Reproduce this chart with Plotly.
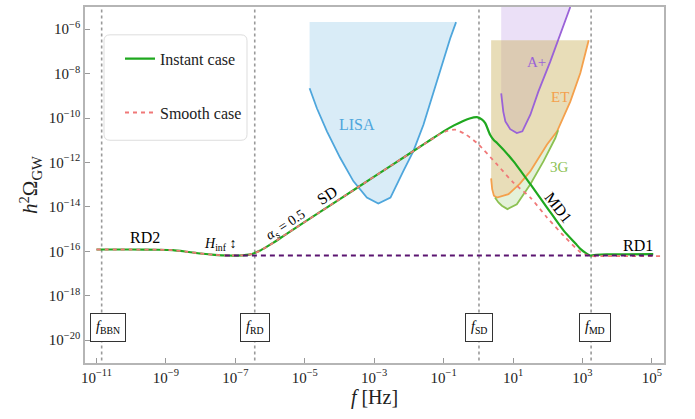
import numpy as np
import plotly.graph_objects as go

# ---------------- data (log10 values) ----------------
inst_logf = [-11.0, -10.0, -9.2, -8.8, -8.4, -8.0, -7.6, -7.2, -6.8, -6.6, -6.44, -6.3, -6.1, -5.9,
             -5.5, -4.5, -3.5, -2.5, -1.5, -1.0, -0.7, -0.45, -0.25, -0.04, 0.1, 0.2, 0.34, 0.45,
             0.54, 1.01, 1.5, 1.98, 2.46, 2.8, 2.94, 3.1, 3.23, 3.4, 3.7, 4.2, 5.04]
inst_logomega = [-15.92, -15.92, -15.93, -15.95, -16.02, -16.10, -16.16, -16.19, -16.18, -16.15,
                 -16.08, -15.98, -15.80, -15.61, -15.19, -14.17, -13.15, -12.13, -11.11, -10.60,
                 -10.33, -10.14, -10.02, -9.96, -10.06, -10.23, -10.75, -11.00, -11.12, -11.94,
                 -12.98, -14.03, -15.07, -15.65, -15.89, -16.08, -16.19, -16.16, -16.14, -16.14, -16.13]

smooth_logf = [-11.0, -10.0, -9.2, -8.8, -8.4, -8.0, -7.6, -7.2, -6.8, -6.6, -6.44, -6.3, -6.1, -5.9,
               -5.5, -4.5, -3.5, -2.5, -1.5, -1.1, -0.9, -0.67, -0.4, -0.04, 0.54, 1.01, 1.5, 1.98,
               2.46, 2.94, 3.13, 3.3, 3.6, 5.35]
smooth_logomega = [-15.92, -15.92, -15.93, -15.95, -16.02, -16.10, -16.16, -16.19, -16.18, -16.15,
                   -16.08, -15.98, -15.80, -15.61, -15.19, -14.17, -13.15, -12.13, -11.11, -10.72,
                   -10.58, -10.52, -10.70, -11.12, -12.09, -12.91, -13.58, -14.48, -15.30, -16.04,
                   -16.17, -16.22, -16.22, -16.22]

ref_logf = [-7.3, 5.04]
ref_logomega = [-16.19, -16.19]

lisa_logf = [-4.86, -4.65, -4.36, -3.98, -3.6, -3.21, -2.88, -2.53, -2.16, -1.87, -1.58, -1.29, -1.0, -0.81, -0.64]
lisa_logomega = [-8.66, -9.56, -10.6, -11.79, -12.84, -13.58, -13.85, -13.58, -12.39, -11.49, -10.3, -8.81, -7.32, -6.42, -5.68]
lisa_top = -5.68

aplus_logf = [0.66, 0.72, 0.78, 0.92, 1.11, 1.27, 1.5, 1.73, 2.07, 2.36, 2.65]
aplus_logomega = [-8.89, -9.71, -10.15, -10.5, -10.68, -10.6, -9.85, -8.81, -7.47, -6.27, -5.0]
aplus_top = -4.95

et_logf = [0.37, 0.40, 0.45, 0.54, 0.87, 1.2, 1.5, 1.98, 2.27, 2.41, 2.65, 2.94, 3.18]
et_logomega = [-12.72, -13.2, -13.5, -13.58, -13.43, -12.95, -12.39, -11.19, -10.6, -10.08, -9.26, -7.97, -6.5]
et_top = -6.5

g3_logf = [0.48, 0.58, 0.68, 0.84, 1.11, 1.5, 1.88, 2.22, 2.3]
g3_logomega = [-13.58, -13.8, -13.95, -14.1, -13.88, -12.98, -11.94, -10.9, -10.55]

vline_logf = [-10.85, -6.44, 0.02, 3.25]
vline_names = ["BBN", "RD", "SD", "MD"]

x_tick_exp = [-11, -9, -7, -5, -3, -1, 1, 3, 5]
y_tick_exp = [-20, -18, -16, -14, -12, -10, -8, -6]

def P(a):
    return 10 ** np.asarray(a, dtype=float)

def tick_label(e):
    return "10<sup>%s</sup>" % (("−%d" % -e) if e < 0 else str(e))

FONT = "Liberation Serif"
fig = go.Figure()

# vertical reference lines
for lf in vline_logf:
    fig.add_trace(go.Scatter(x=P([lf, lf]), y=P([-22, -4]), mode="lines",
                             line=dict(color="#9a9a9a", width=1.6, dash="3px,3px"),
                             showlegend=False, hoverinfo="skip"))

# LISA
fig.add_trace(go.Scatter(x=P(lisa_logf + [lisa_logf[-1], lisa_logf[0]]),
                         y=P(lisa_logomega + [lisa_top, lisa_top]),
                         mode="none", fill="toself", fillcolor="#d9ecf7", showlegend=False, hoverinfo="skip"))
# A+
fig.add_trace(go.Scatter(x=P(aplus_logf + [aplus_logf[-1], aplus_logf[0]]),
                         y=P(aplus_logomega + [aplus_top, aplus_top]),
                         mode="none", fill="toself", fillcolor="#ebe0f7", showlegend=False, hoverinfo="skip"))
# 3G fill (between 3G and ET curves)
et_sub = [(f, o) for f, o in zip(et_logf, et_logomega) if 0.45 <= f <= 2.3]
g3_poly_f = g3_logf + [p[0] for p in reversed(et_sub)]
g3_poly_o = g3_logomega + [p[1] for p in reversed(et_sub)]
fig.add_trace(go.Scatter(x=P(g3_poly_f), y=P(g3_poly_o), mode="none", fill="toself",
                         fillcolor="#e4f1d9", showlegend=False, hoverinfo="skip"))
# ET
fig.add_trace(go.Scatter(x=P(et_logf + [et_logf[-1], et_logf[0]]),
                         y=P(et_logomega + [et_top, et_top]),
                         mode="none", fill="toself", fillcolor="rgba(200,175,85,0.42)", showlegend=False, hoverinfo="skip"))

fig.add_trace(go.Scatter(x=P(lisa_logf), y=P(lisa_logomega), mode="lines",
                         line=dict(color="#4ea6dc", width=1.8), showlegend=False, hoverinfo="skip"))
fig.add_trace(go.Scatter(x=P(aplus_logf), y=P(aplus_logomega), mode="lines",
                         line=dict(color="#9a62d8", width=1.8), showlegend=False, hoverinfo="skip"))
fig.add_trace(go.Scatter(x=P(et_logf), y=P(et_logomega), mode="lines",
                         line=dict(color="#f4a04c", width=1.8), showlegend=False, hoverinfo="skip"))
fig.add_trace(go.Scatter(x=P(g3_logf), y=P(g3_logomega), mode="lines",
                         line=dict(color="#8cc152", width=1.8), showlegend=False, hoverinfo="skip"))

# main curves
fig.add_trace(go.Scatter(x=P(inst_logf), y=P(inst_logomega), mode="lines", name="Instant case",
                         legendgroup="a", line=dict(color="#1fa81f", width=2.2, shape="spline", smoothing=0.6)))
fig.add_trace(go.Scatter(x=P(smooth_logf), y=P(smooth_logomega), mode="lines", name="Smooth case",
                         legendgroup="b", line=dict(color="#f07878", width=1.8, dash="4px,4px",
                                                    shape="spline", smoothing=0.6)))
fig.add_trace(go.Scatter(x=P(ref_logf), y=P(ref_logomega), mode="lines",
                         line=dict(color="#5a1470", width=1.8, dash="5px,4px"), showlegend=False, hoverinfo="skip"))

ann = []
def txt(x, y, s, size=15, color="black", angle=0):
    ann.append(dict(x=x, y=y, xref="x", yref="y", text=s, showarrow=False, textangle=angle,
                    font=dict(family=FONT, size=size, color=color)))

txt(-9.6, -15.39, "RD2", 16)
txt(-7.42, -15.7, "<i>H</i><sub>inf</sub> ↕", 14)
txt(-5.55, -14.82, "<i>α</i><sub>s</sub> = 0.5", 14, angle=-33)
txt(-4.36, -13.5, "SD", 16, angle=-33)
txt(-3.5, -10.3, "LISA", 16, "#4ea6dc")
txt(1.69, -7.47, "A+", 15, "#9a62d8")
txt(2.34, -9.04, "ET", 15, "#f4a04c")
txt(2.34, -12.21, "3G", 15, "#8cc152")
txt(2.3, -14.05, "MD1", 16, angle=52)
txt(4.61, -15.72, "RD1", 16)

box_x = [-10.66, -6.44, 0.02, 3.35]
for bx, nm in zip(box_x, vline_names):
    ann.append(dict(x=bx, y=-19.41, xref="x", yref="y", showarrow=False,
                    text="<i>f</i><sub>%s</sub>" % nm, bgcolor="white", bordercolor="#333",
                    borderwidth=1, borderpad=5, font=dict(family=FONT, size=14, color="black")))

# rounded legend frame (paper coords)
L, R, T, B = 104, 247, 33, 139
pl, pr, pt, pb = 85, 664, 5, 363
def px(x): return (x - pl) / (pr - pl)
def py(y): return 1 - (y - pt) / (pb - pt)
r = 6
path = (f"M {px(L+r)} {py(T)} L {px(R-r)} {py(T)} Q {px(R)} {py(T)} {px(R)} {py(T+r)} "
        f"L {px(R)} {py(B-r)} Q {px(R)} {py(B)} {px(R-r)} {py(B)} "
        f"L {px(L+r)} {py(B)} Q {px(L)} {py(B)} {px(L)} {py(B-r)} "
        f"L {px(L)} {py(T+r)} Q {px(L)} {py(T)} {px(L+r)} {py(T)} Z")
shapes = [dict(type="path", path=path, xref="paper", yref="paper",
               line=dict(color="#dddddd", width=1), fillcolor="white", layer="above")]

axis_common = dict(type="log", showgrid=False, zeroline=False, showline=True, mirror=True,
                   linecolor="#b5b5b5", linewidth=1.5, ticks="inside", ticklen=5, tickcolor="#999",
                   tickfont=dict(family=FONT, size=15, color="#222"))

fig.update_layout(
    width=695, height=419, margin=dict(l=85, r=31, t=5, b=56),
    plot_bgcolor="white", paper_bgcolor="white",
    xaxis=dict(range=[-11.33, 5.35], tickvals=P(x_tick_exp), ticktext=[tick_label(e) for e in x_tick_exp],
               title=dict(text="<i>f</i> [Hz]", font=dict(family=FONT, size=20, color="#222"), standoff=4),
               **axis_common),
    yaxis=dict(range=[-21.03, -5.0], tickvals=P(y_tick_exp), ticktext=[tick_label(e) for e in y_tick_exp],
               title=dict(text="<i>h</i><sup>2</sup>Ω<sub>GW</sub>", font=dict(family=FONT, size=21, color="#222"), standoff=5),
               **axis_common),
    legend=dict(x=px(120), y=py(40), xanchor="left", yanchor="top", bgcolor="rgba(0,0,0,0)",
                borderwidth=0, font=dict(family=FONT, size=16, color="#222"),
                tracegroupgap=30, traceorder="grouped"),
    annotations=ann, shapes=shapes,
)
fig.write_html("out.html", config={"displayModeBar": False},
               post_script="document.body.style.margin='0px';document.body.style.padding='0px';")
